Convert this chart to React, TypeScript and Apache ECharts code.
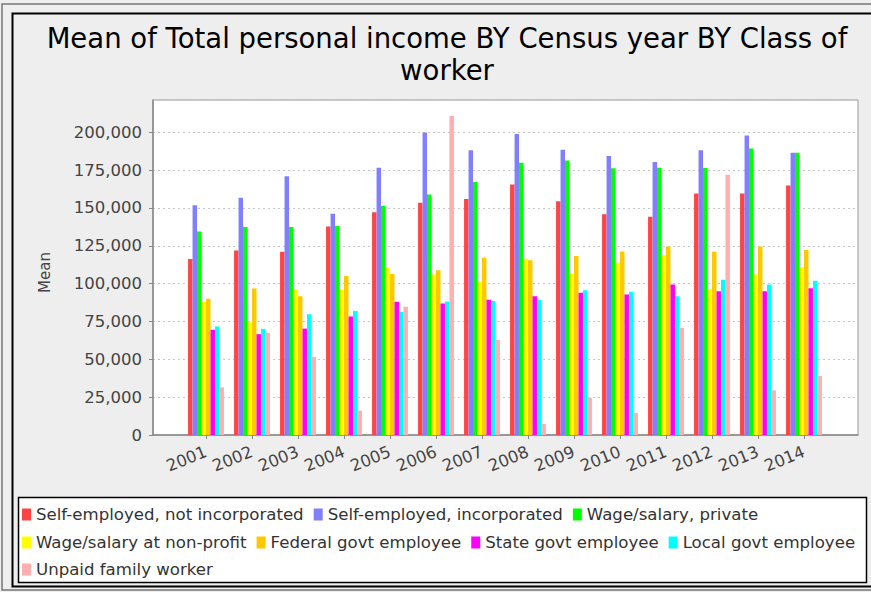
import React, { useEffect, useRef } from "react";
import * as echarts from "echarts";

const years = ["2001", "2002", "2003", "2004", "2005", "2006", "2007", "2008", "2009", "2010", "2011", "2012", "2013", "2014"];
const seriesNames = [
  "Self-employed, not incorporated",
  "Self-employed, incorporated",
  "Wage/salary, private",
  "Wage/salary at non-profit",
  "Federal govt employee",
  "State govt employee",
  "Local govt employee",
  "Unpaid family worker",
];
const selfNotInc = [116200, 121900, 121100, 137800, 147100, 153500, 155900, 165400, 154400, 145800, 144200, 159600, 159600, 164900];
const selfInc = [151700, 156800, 170900, 146200, 176600, 199800, 188100, 198900, 188500, 184300, 180400, 188100, 197800, 186500];
const wagePrivate = [134500, 137400, 137400, 138000, 151300, 158800, 167100, 179900, 181300, 176200, 176600, 176400, 189200, 186500];
const nonProfit = [87800, 74500, 95900, 95900, 110300, 106100, 101200, 116400, 106300, 113800, 118800, 96400, 106100, 110900];
const federal = [90000, 96800, 91700, 105000, 106300, 108900, 117100, 115500, 118200, 121300, 124600, 121100, 124600, 122200];
const stateGovt = [69500, 66600, 70300, 78300, 88000, 86900, 89300, 91700, 93900, 92800, 99400, 95000, 95000, 97000];
const localGovt = [71700, 70100, 79800, 82000, 81400, 88200, 88600, 89300, 95700, 94600, 91700, 102500, 99400, 101900];
const unpaid = [31500, 67500, 51600, 16100, 84700, 210800, 62800, 7300, 24500, 14600, 70800, 172000, 29500, 39000];
const seriesValues = [selfNotInc, selfInc, wagePrivate, nonProfit, federal, stateGovt, localGovt, unpaid];
const colors = ["#ff4444", "#8080ff", "#00ff00", "#ffff00", "#ffc800", "#ff00ff", "#00ffff", "#ffafaf"];
const yMax = 221300;
const yStep = 25000;

const FONT = "DejaVu Sans";

export default function App() {
  const ref = useRef<HTMLDivElement>(null);
  useEffect(() => {
    if (!ref.current) return;
    const chart = echarts.init(ref.current, null, { renderer: "svg" });
    const legendText = { fontFamily: FONT, fontSize: 16.6, color: "#333" };
    const legendCommon = {
      icon: "rect",
      itemWidth: 9,
      itemHeight: 12,
      itemGap: 10,
      left: 22,
      width: 1000,
      padding: 0,
      textStyle: legendText,
      selectedMode: false,
    };
    chart.setOption({
      animation: false,
      backgroundColor: "#eeeeee",
      color: colors,
      title: {
        text: "Mean of Total personal income BY Census year BY Class of\nworker",
        left: 442,
        textAlign: "center",
        top: 17,
        textStyle: { fontFamily: FONT, fontSize: 27.5, fontWeight: "normal", color: "#000", lineHeight: 32 },
      },
      legend: [
        { ...legendCommon, top: 506, data: seriesNames.slice(0, 3) },
        { ...legendCommon, top: 534, data: seriesNames.slice(3, 7) },
        { ...legendCommon, top: 561, data: seriesNames.slice(7) },
      ],
      grid: [
        { left: 153, right: 13, top: 100, bottom: 157, show: true, backgroundColor: "#fff", borderColor: "#999", borderWidth: 1 },
        { left: 183, right: 44, top: 100, bottom: 157 },
      ],
      xAxis: [
        {
          type: "value",
          gridIndex: 0,
          min: 0,
          max: 1,
          offset: 5,
          axisLine: { show: true, lineStyle: { color: "#888", width: 1.5 } },
          axisTick: { show: false },
          axisLabel: { show: false },
          splitLine: { show: false },
        },
        {
          type: "category",
          gridIndex: 1,
          data: years,
          offset: 5,
          axisLine: { show: false },
          axisTick: { show: true, alignWithLabel: true, interval: 0, length: 4, lineStyle: { color: "#888" } },
          axisLabel: { interval: 0, hideOverlap: false, rotate: 22, margin: 11, fontFamily: FONT, fontSize: 16.5, color: "#444" },
          splitLine: { show: false },
        },
      ],
      yAxis: [
        {
          type: "value",
          gridIndex: 0,
          min: 0,
          max: yMax,
          interval: yStep,
          offset: 5,
          name: "Mean",
          nameLocation: "middle",
          nameGap: 96,
          nameTextStyle: { fontFamily: FONT, fontSize: 15, color: "#444", padding: [0, 0, 0, -10] },
          axisLine: { show: true, lineStyle: { color: "#888", width: 1.5 } },
          axisTick: { show: true, length: 4, lineStyle: { color: "#888" } },
          axisLabel: {
            showMaxLabel: false,
            margin: 6,
            fontFamily: FONT,
            fontSize: 16.5,
            color: "#444",
            formatter: (v: number) => v.toLocaleString("en-US"),
          },
          splitLine: { show: true, lineStyle: { color: "#c8c8c8", type: [2, 3] } },
        },
        {
          type: "value",
          gridIndex: 1,
          min: 0,
          max: yMax,
          interval: yStep,
          show: false,
          splitLine: { show: false },
        },
      ],
      graphic: [
        { type: "rect", shape: { x: 2, y: 4, width: 900, height: 586 }, style: { fill: "none", stroke: "#777", lineWidth: 1.5 }, silent: true, z: -10 },
        { type: "rect", shape: { x: 12.5, y: 13.5, width: 900, height: 573 }, style: { fill: "none", stroke: "#000", lineWidth: 2 }, silent: true, z: -10 },
        { type: "rect", shape: { x: 18.5, y: 497.5, width: 848, height: 85 }, style: { fill: "#fff", stroke: "#000", lineWidth: 1.5 }, silent: true, z: -10 },
      ],
      series: seriesNames.map((name, i) => ({
        name,
        type: "bar",
        xAxisIndex: 1,
        yAxisIndex: 1,
        data: seriesValues[i],
        barGap: "0%",
        barCategoryGap: "22%",
        itemStyle: { color: colors[i] },
      })),
    });
    return () => chart.dispose();
  }, []);
  return <div ref={ref} style={{ position: "fixed", left: 0, top: 0, width: 871, height: 592 }} />;
}
